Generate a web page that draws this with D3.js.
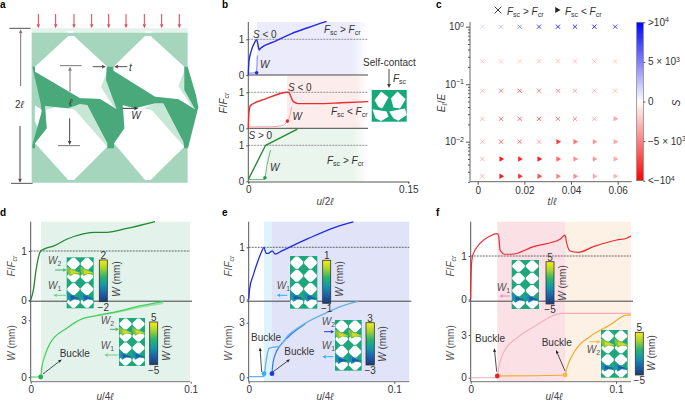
<!DOCTYPE html>
<html><head><meta charset="utf-8">
<style>
html,body{margin:0;padding:0;background:#fff}
svg{display:block}
text{font-family:"Liberation Sans",Arimo,"DejaVu Sans",sans-serif;font-size:10px;fill:#333}
.domain{stroke:#555}
.tick line{stroke:#555}
</style>
<script src="https://cdn.jsdelivr.net/npm/d3@7/dist/d3.min.js"></script>
</head><body><svg id="c" width="685" height="402"></svg>
<script>
// ---------- data ----------
// panel b: [u/2l, F/Fcr] (W traces in same normalised units)
const bBlueF=[[0,0],[.0006,.37],[.0025,.65],[.00625,.93],[.0078,.99],[.0103,.70],[.01125,.74],[.025,.94],[.0406,1.16],[.0563,1.33],[.0734,1.5]];
const bBlueW=[[0,.05],[.0078,.06],[.0085,.55]];
const bRedF=[[0,0],[.0006,.42],[.0019,.63],[.0156,.81],[.0375,1],[.0422,.74],[.0469,.685],[.0656,.685],[.0875,.71],[.1125,.74]];
const bRedW=[[0,.04],[.0188,.04],[.0313,.07],[.0366,.2],[.0391,.37],[.0406,.6]];
const bGreenF=[[0,.05],[.01625,1],[.046,1.45]];
const bGreenW=[[0,.05],[.0156,.05],[.0172,.41],[.0209,.87]];
// panel c
const cT=[.002,.01,.018,.0263,.0344,.0417,.05,.0589];
const cE=[1,.25,.077,.025,.01,.005,.0025];
const cS=[
 [1500,2500,4000,7000,8000,8000,8500,7000],
 [-2200,-2000,-2000,-2500,-2500,-2500,-2500,-2200],
 [-2500,-5000,-5500,-5000,-4500,-3500,-3000,-2500],
 [-3000,-5500,-5500,-6000,-5000,-4500,-3500,-3500],
 [-3000,-6000,-5000,-3500,-7500,-5500,-4000,-3500],
 [-3000,-9000,-8500,-9000,-6000,-4500,-4000,-3500],
 [-3000,-9000,-8000,-7000,-5000,-4500,-3500,-3000]];
const cTri=[ // 1 = F_sc < F_cr marker
 [0,0,0,0,0,0,0,0],[0,0,0,0,0,0,0,0],[0,0,0,0,0,0,0,0],[0,0,0,0,0,0,0,1],
 [0,0,0,0,1,1,1,1],[0,1,1,1,1,1,1,1],[0,1,1,1,1,1,1,1]];
const cXTicks=[0,.02,.04,.06];
const cYTicks=[1,.1,.01];
const cbTicks=[10000,5000,0,-5000,-10000];
const cbLabels=[[">10","4"],["5 × 10","3"],["0",""],["−5 × 10","3"],["<−10","4"]];
// panel d
const dF=[[0,0],[.00167,.20],[.00333,.61],[.00625,1],[.00896,1.05],[.01417,1.10],[.0225,1.24],[.0329,1.35],[.0402,1.38],[.0475,1.38],[.06,1.46],[.0777,1.6]];
const dW1=[[0,0],[.00625,0],[.00688,.46],[.00896,1.16],[.0121,1.78],[.0225,2.58],[.0329,3.1],[.04125,3.25],[.05375,3.46],[.0683,3.76],[.0829,3.99]];
const dW2=[[.04125,3.25],[.05375,3.42],[.0683,3.69],[.0829,3.9]];
// panel e
const eF=[[0,0],[.00069,.21],[.0032,.47],[.00664,.76],[.00892,.92],[.01053,1],[.0119,.885],[.0135,.885],[.01625,.93],[.0181,.87],[.0227,.93],[.041,1.17],[.0593,1.385],[.0719,1.49]];
const eW1=[[0,.04],[.0105,.04],[.0117,.77],[.014,1.59],[.01625,1.65],[.0204,1.68],[.0273,2.32],[.0387,2.96],[.0524,3.51],[.0639,3.91],[.0753,4.17]];
const eW2=[[.016,.2],[.0165,.68],[.0181,1.23],[.0208,1.65],[.0273,2.23],[.0387,2.93]];
// panel f
const fF=[[0,0],[.00046,.75],[.00138,1.02],[.0064,1.29],[.0133,1.46],[.0183,1.515],[.0193,1.45],[.0202,1.14],[.0236,1.04],[.0282,1.04],[.0431,1.215],[.0615,1.385],[.0638,1.46],[.0649,1.48],[.0661,1.29],[.0683,1.115],[.0741,1.085],[.0844,1.215],[.1005,1.37],[.1073,1.41],[.1103,1.46]];
const fW1=[[0,0],[.0183,0],[.019,.54],[.0236,1.95],[.0316,2.77],[.0453,3.7],[.0625,4.52],[.1103,4.52]];
const fW2=[[.0183,.12],[.0649,.19],[.0661,.66],[.0729,2.06],[.082,2.88],[.0958,3.7],[.1073,4.4],[.1103,4.4]];
// panel a schematic, in a 3x drawing grid
const aBg=[[95,98],[563,98],[563,548],[95,548]];
const aStrip=[[95,85],[563,85],[563,98],[95,98]];
const aHoles=[
 [[205,108],[222,108],[322,200],[318,240],[350,328],[300,297],[240,295],[105,215],[105,200]],
 [[435,108],[452,108],[553,200],[553,270],[585,328],[535,298],[465,290],[340,212],[340,200]],
 [[105,430],[205,540],[222,540],[322,440],[322,430],[262,315],[240,312],[205,325],[135,318],[140,385]],
 [[342,430],[435,540],[452,540],[553,440],[550,425],[490,310],[465,310],[405,325],[368,315],[373,385]],
 [[105,316],[126,330],[124,350],[114,386],[104,362]],
 [[200,93],[222,93],[218,98],[204,98]],[[434,93],[456,93],[452,98],[438,98]]];
const aGhost=[
 [[322,212],[303,262],[342,322],[350,328],[318,240]],
 [[553,212],[535,258],[575,320],[585,328],[553,270]],
 [[205,325],[240,312],[262,315],[322,432],[322,440],[225,330]],
 [[430,325],[465,310],[490,310],[550,425],[553,440],[455,330]],
 [[135,318],[165,322],[150,326],[135,330]]];
const aDark=[[320,200],[340,200],[340,212],[465,290],[535,298],[585,328],[553,270],[553,200],[563,200],[588,285],[595,322],[565,440],[563,445],[553,445],[550,425],[490,310],[465,310],[405,325],[368,315],[373,385],[342,430],[342,445],[322,445],[322,430],[262,315],[240,312],[205,325],[135,318],[140,385],[105,430],[105,445],[97,445],[97,435],[125,335],[122,310],[97,200],[105,200],[105,215],[240,295],[300,297],[350,328],[318,240]];
const aForceX=[115,167,222,275,326,378,433,485,538];
// self-contact inset holes (unit square)
const scHoles=[
 [[.08,.32],[.27,.05],[.48,.23],[.30,.58],[.19,.53]],
 [[.55,.26],[.74,.05],[.97,.29],[.81,.58],[.62,.55]],
 [[.02,.61],[.43,.68],[.48,.84],[.27,.98],[.11,.89]],
 [[.50,.68],[.95,.58],[1,.79],[.76,.97],[.62,.89]]];
const octagon=[[-.1,-.46],[.1,-.46],[.46,-.08],[.46,.08],[.1,.46],[-.1,.46],[-.46,.08],[-.46,-.08]];
const wedge=[[0,-.28],[.7,.1],[1,.2],[.95,.36],[.55,.3],[.25,.48],[.04,.16]];
const wedgeInner=[[.25,-.02],[.7,.12],[.95,.22],[.6,.25],[.3,.32]];
const jet=["#f6ec15","#a8d32f","#2bb56c","#1499a8","#1c62a8","#1b3a78"];

// ---------- helpers ----------
const svg=d3.select("#c");
const defs=svg.append("defs");
const C={blue:"#1f2be0",red:"#ee2a2e",green:"#1f8a2e",dgreen:"#1f8a3a",lgreen:"#3ecf55"};
function rich(g,x,y,parts,o={}){
  const t=g.append("text").attr("x",x).attr("y",y);
  if(o.anchor)t.attr("text-anchor",o.anchor);
  if(o.rot!==undefined)t.attr("transform",`rotate(${o.rot} ${x} ${y})`);
  if(o.fill)t.style("fill",o.fill);
  if(o.size)t.style("font-size",o.size+"px");
  let shift=0;
  parts.forEach(p=>{
    const s=typeof p==="string"?[p,""]:p, m=s[1]||"";
    const ts=t.append("tspan").text(s[0]);
    if(m.includes("i"))ts.style("font-style","italic");
    let target=0;
    if(m.includes("s")){ts.style("font-size","7px");target=2;}
    if(m.includes("u")){ts.style("font-size","7px");target=-3.5;}
    if(target!==shift){ts.attr("dy",target-shift);shift=target;}
  });
  return t;
}
const Fcr=[["F","i"],"/",["F","i"],["cr","is"]];
const sc=(op)=>[["F","i"],["sc","s"],` ${op} `,["F","i"],["cr","s"]];
const W=(n)=>[["W","i"],[n,"s"]];
function arrow(g,x1,y1,x2,y2,col,w=1,h=4,hw=1.8){
  const a=Math.atan2(y2-y1,x2-x1),bx=x2-h*Math.cos(a),by=y2-h*Math.sin(a);
  g.append("line").attr("x1",x1).attr("y1",y1).attr("x2",bx).attr("y2",by).attr("stroke",col).attr("stroke-width",w);
  g.append("path").attr("fill",col).attr("d",`M${x2},${y2}L${bx-hw*Math.sin(a)},${by+hw*Math.cos(a)}L${bx+hw*Math.sin(a)},${by-hw*Math.cos(a)}Z`);
}
function gradient(id,stops,vertical){
  const g=defs.append("linearGradient").attr("id",id).attr("x1",0).attr("y1",0).attr("x2",vertical?0:1).attr("y2",vertical?1:0);
  stops.forEach(s=>g.append("stop").attr("offset",s[0]).attr("stop-color",s[1]).attr("stop-opacity",s[2]===undefined?1:s[2]));
  return `url(#${id})`;
}
function poly(g,pts,fx,fy,fill){
  g.append("path").attr("fill",fill).attr("d",d3.line().x(p=>fx(p[0])).y(p=>fy(p[1]))(pts)+"Z");
}
function curve(g,data,x,y,col,w,type){
  g.append("path").attr("fill","none").attr("stroke",col).attr("stroke-width",w).attr("stroke-linejoin","round")
   .attr("d",d3.line().x(d=>x(d[0])).y(d=>y(d[1])).curve(type||d3.curveMonotoneX)(data));
}
function dot(g,cx,cy,col,r=2.2){g.append("circle").attr("cx",cx).attr("cy",cy).attr("r",r).attr("fill",col);}
function xAxis(g,x,y0,vals,fmt){
  const a=g.append("g").attr("transform",`translate(0,${y0})`).call(d3.axisBottom(x).tickValues(vals).tickFormat(fmt).tickSize(2).tickPadding(2));
  a.selectAll("text").style("font-size","10px").style("fill","#333");
  a.select(".domain").attr("stroke","#666");
  return a;
}
function yAxis(g,x0,y,vals){
  const a=g.append("g").attr("transform",`translate(${x0},0)`).call(d3.axisLeft(y).tickValues(vals).tickFormat(d3.format("d")).tickSize(2).tickPadding(2));
  a.selectAll("text").style("font-size","10px").style("fill","#333");
  a.select(".domain").remove();
  return a;
}
function hline(g,x1,x2,y,col,w,dash){
  const l=g.append("line").attr("x1",x1).attr("x2",x2).attr("y1",y).attr("y2",y).attr("stroke",col).attr("stroke-width",w);
  if(dash)l.attr("stroke-dasharray",dash);
}
function vline(g,x,y1,y2,col,w){g.append("line").attr("x1",x).attr("x2",x).attr("y1",y1).attr("y2",y2).attr("stroke",col).attr("stroke-width",w);}
function rect(g,x,y,w,h,fill){g.append("rect").attr("x",x).attr("y",y).attr("width",w).attr("height",h).attr("fill",fill);}
function lattice(g,x,y,w,h,top,bottom){
  rect(g,x,y,w,h,"#1ea77c");
  const cw=w/2,rh=h/4;
  for(let r=0;r<4;r++)for(let c=0;c<2;c++){
    poly(g,octagon,p=>x+(c+.5)*cw+p*cw,p=>y+(r+.5)*rh+p*rh,"#fff");
  }
  const band=(yb,outer,inner)=>{for(let c=0;c<2;c++){
    poly(g,wedge,p=>x+c*cw+p*cw,p=>yb+p*rh,outer);
    poly(g,wedgeInner,p=>x+c*cw+p*cw,p=>yb+p*rh,inner);
  }};
  if(top)band(y+rh,"#7fc241","#d6d81d");
  if(bottom)band(y+3*rh,"#1d8fb0","#1c5ea6");
}
const jetFill=gradient("jet",jet.map((c,i)=>[i/(jet.length-1),c]),true);
function cbar(g,x,y,w,h,top,bot,tx,ty){
  g.append("rect").attr("x",x).attr("y",y).attr("width",w).attr("height",h).attr("fill",jetFill).attr("stroke","#333").attr("stroke-width",.8);
  g.append("text").attr("x",x+w/2).attr("y",y-1).attr("text-anchor","middle").text(top);
  g.append("text").attr("x",x+w/2).attr("y",y+h+9).attr("text-anchor","middle").text(bot);
  rich(g,tx,ty,[["W","i"]," (mm)"],{rot:-90,anchor:"middle",fill:"#444"});
}
function letter(s,x,y){svg.append("text").attr("x",x).attr("y",y).style("font-weight","bold").style("font-size","10px").style("fill","#000").text(s);}

// ---------- panel a ----------
{
  const g=svg.append("g");
  const s=d3.scaleLinear().domain([0,690]).range([0,230]);
  poly(g,aStrip,s,s,"#e3f2ea");
  poly(g,aBg,s,s,"#a5d5bd");
  aHoles.forEach(h=>poly(g,h,s,s,"#fff"));
  aGhost.forEach(h=>poly(g,h,s,s,"#c6e6d6"));
  poly(g,aDark,s,s,"#4aa97a");
  aForceX.forEach(x=>arrow(g,s(x),s(42),s(x),s(85),"#ee3a4e",1,4,1.6));
  hline(g,s(28),s(92),s(85),"#555",1);
  hline(g,s(33),s(98),s(550),"#555",1);
  arrow(g,s(62),s(258),s(62),s(88),"#777",1);
  arrow(g,s(60),s(378),s(60),s(548),"#444",1);
  rich(g,s(58),s(323),["2",["ℓ","i"]],{anchor:"middle"});
  hline(g,s(180),s(245),s(197),"#777",1);
  hline(g,s(174),s(240),s(437),"#777",1);
  arrow(g,s(210),s(275),s(210),s(200),"#777",1);
  arrow(g,s(209),s(355),s(209),s(435),"#444",1);
  rich(g,s(212),s(319),[["ℓ","i"]],{anchor:"middle"});
  arrow(g,s(278),s(200),s(318),s(200),"#555",1);
  arrow(g,s(382),s(200),s(342),s(200),"#555",1);
  rich(g,s(387),s(212),[["t","i"]]);
  arrow(g,s(368),s(325),s(415),s(325),"#333",1);
  rich(g,s(394),s(358),[["W","i"]]);
}
// ---------- panel b ----------
{
  const g=svg.append("g");
  const x=d3.scaleLinear().domain([0,.15]).range([248.3,408.3]);
  const fade=(id,c)=>gradient(id,[[0,c,1],[.85,c,1],[1,c,0]]);
  rect(g,257,22,111,53,fade("fb",  "#ebebfb"));
  rect(g,287,76,81,52,fade("fr","#fdecec"));
  rect(g,266,129,102,52,fade("fg","#eaf5ee"));
  const yT=d3.scaleLinear().domain([0,1]).range([75,39.3]);
  const yM=d3.scaleLinear().domain([0,1]).range([128.3,92.3]);
  const yB=d3.scaleLinear().domain([0,1]).range([181.3,145.3]);
  [yT,yM,yB].forEach(y=>{hline(g,248.3,368,y(1),"#777",.8,"2,1");yAxis(g,248.3,y,[0,1]);});
  hline(g,248.3,368,yT(0),"#444",1);
  hline(g,248.3,368,yM(0),"#444",1);
  vline(g,248.3,22,181.8,"#555",1);
  xAxis(g,x,181.5,[0,.15],d=>d===0?"0":"0.15");
  curve(g,bBlueW,x,yT,"#7f86f0",1,d3.curveLinear);
  curve(g,bBlueF,x,yT,C.blue,1.4);
  dot(g,x(.0078),yT(.06),C.blue,1.8);
  curve(g,bRedW,x,yM,"#f7a0a4",1);
  curve(g,bRedF,x,yM,C.red,1.4);
  dot(g,x(.0366),yM(.2),C.red,1.8);
  curve(g,bGreenW,x,yB,"#6dbb74",1,d3.curveLinear);
  curve(g,bGreenF,x,yB,C.green,1.4,d3.curveLinear);
  dot(g,x(.0156),yB(.1),"#2f9e44",1.8);
  rich(g,253,38,[["S","i"]," < 0"]);
  rich(g,288,91,[["S","i"]," < 0"]);
  rich(g,248.5,139,[["S","i"]," > 0"]);
  rich(g,260,68,[["W","i"]]);
  rich(g,292.5,120,[["W","i"]]);
  rich(g,270,171,[["W","i"]]);
  rich(g,324,33,sc(">"));
  rich(g,331,115,sc("<"));
  rich(g,327,164,sc(">"));
  rich(g,227,103,Fcr,{rot:-90,anchor:"middle",fill:"#444"});
  rich(g,325,205,[["u","i"],"/2",["ℓ","i"]],{anchor:"middle",fill:"#444"});
  g.append("text").attr("x",389.5).attr("y",66).attr("text-anchor","middle").text("Self-contact");
  arrow(g,389,69,389,88,"#333",.9);
  rich(g,393,82,[["F","i"],["sc","s"]]);
  const sx=d3.scaleLinear().domain([0,1]).range([371.7,406.7]),sy=d3.scaleLinear().domain([0,1]).range([90,121.7]);
  rect(g,371.7,90,35,31.7,"#16a878");
  scHoles.forEach(h=>poly(g,h,sx,sy,"#fff"));
}
// ---------- panel c ----------
{
  const g=svg.append("g");
  const x=d3.scaleLinear().domain([0,.06]).range([477.7,617.7]);
  const y=d3.scaleLog().domain([.01,1]).range([141.7,26.7]);
  const col=d3.scaleLinear().domain([-10000,0,10000]).range(["#ff0000","#ffffff","#0000ff"]);
  const xa=g.append("g").attr("transform","translate(0,181.7)").call(d3.axisBottom(x).tickValues(cXTicks).tickFormat(d=>d===0?"0":d3.format(".2f")(d)).tickSize(3).tickPadding(2));
  xa.select(".domain").remove();
  xa.selectAll("text").style("font-size","10px").style("fill","#333");
  hline(g,470,631.7,181.7,"#666",1);
  vline(g,470,22,181.7,"#666",1);
  const minor=[];
  for(let d=-3;d<0;d++)for(let m=2;m<10;m++){const v=m*10**d;if(y(v)<182)minor.push(v);}
  const ym=g.append("g").attr("transform","translate(470,0)").call(d3.axisLeft(y).tickValues(minor).tickFormat("").tickSize(2));
  ym.select(".domain").remove();
  const ya=g.append("g").attr("transform","translate(470,0)").call(d3.axisLeft(y).tickValues(cYTicks).tickFormat(()=>"").tickSize(4));
  ya.select(".domain").remove();
  cYTicks.forEach(v=>rich(g,464,y(v)+3.5,["10",[String(Math.round(Math.log10(v))).replace("-","−"),"u"]],{anchor:"end"}));
  const tri=d3.symbol().type(d3.symbolTriangle).size(13)();
  const cross=d3.symbol().type(d3.symbolTimes).size(13)();
  cE.forEach((e,i)=>cT.forEach((t,j)=>{
    const p=g.append("path").attr("fill",cTri[i][j]?col(cS[i][j]):"none").attr("stroke",cTri[i][j]?"none":col(cS[i][j])).attr("stroke-width",1);
    if(cTri[i][j])p.attr("d",tri).attr("transform",`translate(${x(t)},${y(e)}) rotate(90)`);
    else p.attr("d",cross).attr("transform",`translate(${x(t)},${y(e)})`);
  }));
  // legend
  const lg=g.append("path").attr("d",cross).attr("transform","translate(498,10) scale(1.6)").attr("fill","none").attr("stroke","#333").attr("stroke-width",.6);
  g.append("path").attr("d",tri).attr("transform","translate(557,10) rotate(90) scale(1.1)").attr("fill","#222");
  rich(g,507,15,sc(">"));
  rich(g,565,15,sc("<"));
  rich(g,445,103,[["E","i"],["ℓ","is"],"/",["E","i"]],{rot:-90,anchor:"middle",fill:"#444"});
  rich(g,552,205,[["t","i"],"/",["ℓ","i"]],{anchor:"middle",fill:"#444"});
  // colour bar
  const cb=d3.scaleLinear().domain([-10000,10000]).range([180.7,22.3]);
  const cg=gradient("cbg",d3.range(0,1.001,.25).map(o=>[o,col(10000-o*20000)]),true);
  g.append("rect").attr("x",636.7).attr("y",22.3).attr("width",6.6).attr("height",158.4).attr("fill",cg).attr("stroke","#777").attr("stroke-width",.7);
  const ca=g.append("g").attr("transform","translate(643.3,0)").call(d3.axisRight(cb).tickValues(cbTicks).tickFormat("").tickSize(2));
  ca.select(".domain").remove();
  cbTicks.forEach((v,i)=>rich(g,648,cb(v)+3.5,[cbLabels[i][0],[cbLabels[i][1],"u"]]));
  rich(g,680,103,[["S","i"]],{rot:-90,anchor:"middle"});
}
// ---------- lower panels: shared frame ----------
function frame(o){
  const g=svg.append("g");
  o.shade.forEach(s=>rect(g,s[0],221.7,s[1]-s[0],160,s[2]));
  const x=d3.scaleLinear().domain([0,.1]).range([o.x0,o.x1]);
  const yF=d3.scaleLinear().domain([0,1]).range(o.yF);
  const yW=d3.scaleLinear().domain([0,3]).range(o.yW);
  hline(g,o.x0,o.right,yF(1),"#444",.8,"2,1");
  hline(g,o.x0-2,o.right+2,301.2,"#444",1);
  yAxis(g,o.x0,yF,[0,1]);
  yAxis(g,o.x0,yW,[0,3]);
  vline(g,o.x0,221.7,381.7,"#555",1);
  hline(g,o.x0,o.right,381.7,"#777",1);
  xAxis(g,x,381.7,[0,.1],d=>d===0?"0":"0.1").select(".domain").remove();
  rich(g,o.lx,266,Fcr,{rot:-90,anchor:"middle",fill:"#555"});
  rich(g,o.lx,343,[["W","i"]," (mm)"],{rot:-90,anchor:"middle",fill:"#555"});
  rich(g,o.ux,403,[["u","i"],"/4",["ℓ","i"]],{anchor:"middle",fill:"#444"}).attr("y",400);
  return {g,x,yF,yW};
}
const wTxt=(g,xx,yy,n)=>rich(g,xx,yy,W(n),{fill:"#555"});
// panel d
{
  const {g,x,yF,yW}=frame({x0:30.7,x1:190.7,right:190,yF:[300,251],yW:[377,320.3],shade:[[41,190,"#e3f3ec"]],lx:15,ux:105});
  curve(g,dF,x,yF,"#1f8a2e",1.3);
  curve(g,dW2,x,yW,"#9be3a6",1.4);
  curve(g,dW1,x,yW,"#3ecf55",1.2);
  dot(g,x(.00625),yW(0),"#2faa4c",2.4);
  lattice(g,66.7,257.3,27,51,true,true);
  cbar(g,99.3,260,8,41.7,"2","−2",120,279);
  lattice(g,119,318,26,48,true,true);
  cbar(g,149.7,322,8,42.7,"5","−5",170,343);
  wTxt(g,48,264,"2");wTxt(g,48,289,"1");wTxt(g,100.7,324,"2");wTxt(g,100.7,349,"1");
  arrow(g,55,270,66.7,270,"#3cb56a",1,3.5);
  arrow(g,66,295.3,53.3,295.3,"#6fcf8c",1,3.5);
  arrow(g,110,329.3,119,329.3,"#3cb56a",1,3.5);
  arrow(g,118.3,355,104.3,355,"#6fcf8c",1,3.5);
  g.append("text").attr("x",59.7).attr("y",357).text("Buckle");
  arrow(g,43,374,61.7,359.5,"#222",.8,3.5,1.5);
}
// panel e
{
  const {g,x,yF,yW}=frame({x0:248.7,x1:394.3,right:409.3,yF:[299.3,247.3],yW:[377.3,322.7],shade:[[264,272,"#def3fb"],[272,409.3,"#e1e4f8"]],lx:232,ux:325});
  curve(g,eF,x,yF,"#1f2be0",1.3);
  curve(g,eW2,x,yW,"#2d7be0",1.2);
  curve(g,eW1,x,yW,"#64b0ee",1.3);
  dot(g,x(.0105),yW(.2),"#2fb4f0",2.4);
  dot(g,x(.016),yW(.2),"#1f3be0",2.4);
  lattice(g,290,256,27.3,52.7,false,true);
  cbar(g,322.7,260.3,8,43,"1","−1",343,279);
  lattice(g,335,320,26.7,50.7,true,true);
  cbar(g,366,322.7,8.3,42.3,"3","−3",386,344);
  wTxt(g,276.7,289.3,"1");wTxt(g,321.7,325,"2");wTxt(g,321.7,349,"1");
  arrow(g,287.3,295.3,276.7,295.3,"#2ab0ee",1,3.5);
  arrow(g,324,331.7,334.3,331.7,"#2b3be0",1,3.5);
  arrow(g,333.3,356.7,322.3,356.7,"#2ab0ee",1,3.5);
  g.append("text").attr("x",251).attr("y",341).text("Buckle");
  g.append("text").attr("x",284.3).attr("y",355).text("Buckle");
  arrow(g,261.7,372,260,347.5,"#222",.8,3.5,1.5);
  arrow(g,272.7,372,290,359.3,"#222",.8,3.5,1.5);
}
// panel f
{
  const {g,x,yF,yW}=frame({x0:470.7,x1:616,right:631,yF:[299.3,256],yW:[377.7,335],shade:[[497.3,565,"#fbe0e6"],[565,631,"#fdf0e4"]],lx:454,ux:554});
  curve(g,fF,x,yF,"#ee2a2e",1.2);
  curve(g,fW1,x,yW,"#f7aeb8",1.1);
  curve(g,fW2,x,yW,"#f4a928",1.2);
  dot(g,x(.0183),yW(.12),"#e8202a",2.4);
  dot(g,x(.0649),yW(.19),"#f6b94a",2.4);
  lattice(g,511.7,260,27.3,49,false,true);
  cbar(g,546,261.7,8,42.3,"5","−5",566,283);
  lattice(g,601,330,26.7,47.7,true,true);
  cbar(g,635.3,332.3,8,42.7,"5","−5",655,353);
  wTxt(g,496.7,290.7,"1");wTxt(g,586.7,353,"2");
  arrow(g,510,296,499.3,296,"#f08ac0",1,3.5);
  arrow(g,589.3,341.7,600.7,341.7,"#f6b94a",1,3.5);
  g.append("text").attr("x",475).attr("y",342).text("Buckle");
  g.append("text").attr("x",541.7).attr("y",346).text("Buckle");
  arrow(g,496.7,371.7,494.3,348.3,"#222",.8,3.5,1.5);
  arrow(g,565,371,556,350,"#222",.8,3.5,1.5);
}
letter("a",0,8);letter("b",222,8);letter("c",436,8);letter("d",0,216);letter("e",222,216);letter("f",436,216);
</script></body></html>
